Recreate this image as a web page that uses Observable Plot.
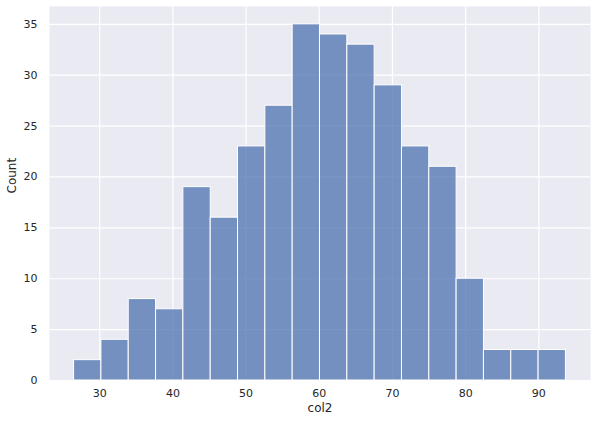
<!DOCTYPE html>
<html>
<head>
<meta charset="utf-8">
<script src="https://cdn.jsdelivr.net/npm/d3@7"></script>
<script src="https://cdn.jsdelivr.net/npm/@observablehq/plot@0.6"></script>
<style>
  body { margin: 0; background: #fff; }
  svg { font-family: "DejaVu Sans", sans-serif; }
</style>
</head>
<body>
<div id="chart"></div>
<script>
const counts = [2, 4, 8, 7, 19, 16, 23, 27, 35, 34, 33, 29, 23, 21, 10, 3, 3, 3];
const binStart = 26.5;
const binEnd = 93.7;
const xTicks = [30, 40, 50, 60, 70, 80, 90];
const yTicks = [0, 5, 10, 15, 20, 25, 30, 35];

const w = (binEnd - binStart) / counts.length;
const bins = counts.map((c, i) => ({x1: binStart + i * w, x2: binStart + (i + 1) * w, count: c}));
const pad = (binEnd - binStart) * 0.05;
const yMax = d3.max(counts) * 1.05;

const chart = Plot.plot({
  width: 597,
  height: 424,
  marginLeft: 49,
  marginRight: 7,
  marginTop: 6,
  marginBottom: 44,
  style: {background: "#fff", color: "#262626", fontSize: "11px", fontFamily: "DejaVu Sans, sans-serif"},
  x: {domain: [binStart - pad, binEnd + pad]},
  y: {domain: [0, yMax]},
  marks: [
    Plot.frame({fill: "#eaeaf2", stroke: null}),
    Plot.ruleX(xTicks, {stroke: "#fff", strokeWidth: 1.2}),
    Plot.ruleY(yTicks, {stroke: "#fff", strokeWidth: 1.2}),
    Plot.rectY(bins, {x1: "x1", x2: "x2", y: "count", fill: "#4c72b0", fillOpacity: 0.75, stroke: "#fff", strokeWidth: 1}),
    Plot.axisX(xTicks, {tickSize: 0, tickPadding: 9, fontSize: 11, label: null}),
    Plot.axisY(yTicks, {tickSize: 0, tickPadding: 12, fontSize: 11, label: null}),
    Plot.text(["col2"], {frameAnchor: "bottom", dy: 31, fontSize: 12, fill: "#262626"}),
    Plot.text(["Count"], {frameAnchor: "left", dx: -37, rotate: -90, fontSize: 12, fill: "#262626"})
  ]
});
document.getElementById("chart").appendChild(chart);
</script>
</body>
</html>
